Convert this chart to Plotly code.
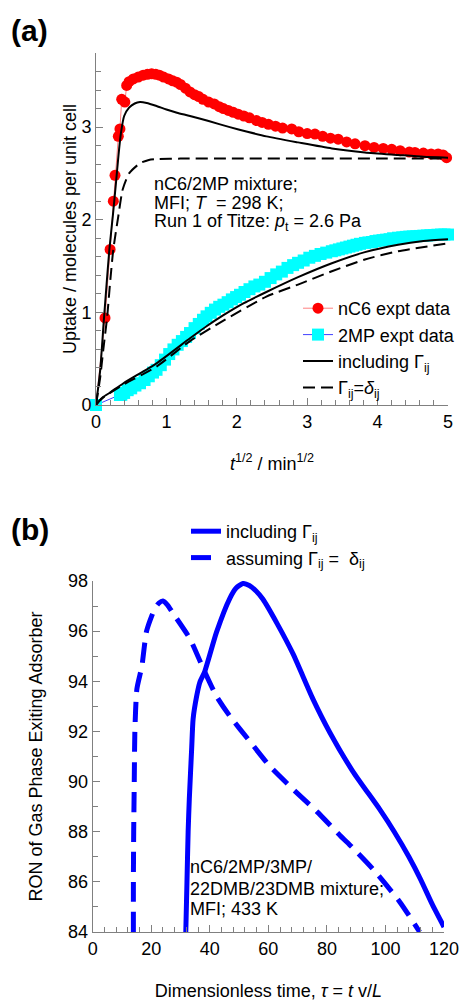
import plotly.graph_objects as go

# ---------------- Panel (a): uptake data ----------------
nc6_x = [0.00, 0.128, 0.20, 0.246, 0.27, 0.317, 0.34, 0.365, 0.41, 0.436, 0.47, 0.53, 0.60, 0.67,
         0.73, 0.79, 0.85, 0.90, 0.96, 1.03, 1.09, 1.146, 1.20, 1.27, 1.335, 1.40, 1.46, 1.52,
         1.60, 1.68, 1.75, 1.81, 1.88, 1.95, 2.02, 2.10, 2.18, 2.28, 2.36, 2.45, 2.55, 2.65,
         2.78, 2.88, 3.00, 3.11, 3.22, 3.33, 3.44, 3.56, 3.68, 3.82, 3.95, 4.08, 4.20, 4.32,
         4.45, 4.53, 4.65, 4.76, 4.86, 4.93, 4.98]
nc6_y = [0.00, 0.94, 1.68, 2.20, 2.48, 2.90, 2.98, 3.30, 3.27, 3.45, 3.49, 3.52, 3.54, 3.56,
         3.57, 3.575, 3.57, 3.56, 3.54, 3.52, 3.50, 3.485, 3.46, 3.42, 3.38, 3.35, 3.33, 3.30,
         3.27, 3.25, 3.22, 3.20, 3.18, 3.16, 3.14, 3.12, 3.10, 3.07, 3.05, 3.03, 3.01, 2.99,
         2.98, 2.95, 2.93, 2.925, 2.90, 2.88, 2.87, 2.84, 2.82, 2.80, 2.78, 2.77, 2.76, 2.745,
         2.73, 2.727, 2.72, 2.71, 2.71, 2.70, 2.67]

mp2_x = [0.00, 0.34, 0.36, 0.40, 0.45, 0.50, 0.56, 0.625, 0.69, 0.75, 0.81, 0.86, 0.92, 0.98,
         1.04, 1.10, 1.16, 1.22, 1.28, 1.335, 1.40, 1.46, 1.52, 1.57, 1.63, 1.69, 1.75, 1.81,
         1.87, 1.93, 1.99, 2.045, 2.11, 2.18, 2.25, 2.32, 2.40, 2.48, 2.56, 2.64, 2.72, 2.80,
         2.87, 2.95, 3.03, 3.11, 3.19, 3.27, 3.35, 3.40, 3.45, 3.50, 3.55, 3.60, 3.65, 3.70,
         3.75, 3.82, 3.87, 3.92, 3.97, 4.02, 4.07, 4.12, 4.17, 4.22, 4.29, 4.35, 4.40, 4.45,
         4.50, 4.55, 4.60, 4.65, 4.70, 4.75, 4.80, 4.85, 4.90, 4.95, 5.00]
mp2_y = [0.00, 0.108, 0.11, 0.13, 0.16, 0.18, 0.21, 0.235, 0.27, 0.31, 0.35, 0.38, 0.43, 0.49,
         0.55, 0.60, 0.65, 0.69, 0.735, 0.777, 0.83, 0.875, 0.92, 0.957, 0.995, 1.03, 1.06, 1.083,
         1.11, 1.14, 1.165, 1.19, 1.22, 1.25, 1.28, 1.30, 1.33, 1.37, 1.41, 1.44, 1.48, 1.51,
         1.535, 1.56, 1.59, 1.61, 1.63, 1.645, 1.66, 1.67, 1.68, 1.69, 1.70, 1.71, 1.72, 1.73,
         1.74, 1.75, 1.755, 1.76, 1.77, 1.775, 1.78, 1.785, 1.79, 1.80, 1.806, 1.81, 1.815, 1.818,
         1.82, 1.822, 1.825, 1.828, 1.83, 1.833, 1.835, 1.838, 1.84, 1.84, 1.84]

# model including Gamma_ij
inc_nc6_x = [0.00, 0.06, 0.11, 0.15, 0.19, 0.24, 0.284, 0.32, 0.355, 0.40, 0.47, 0.55, 0.625,
             0.72, 0.85, 1.00, 1.15, 1.335, 1.60, 1.90, 2.15, 2.42, 2.87, 3.35, 3.82, 4.29, 4.65, 5.00]
inc_nc6_y = [0.00, 0.38, 0.90, 1.30, 1.68, 2.05, 2.40, 2.70, 2.94, 3.12, 3.21, 3.255, 3.27,
             3.26, 3.23, 3.19, 3.155, 3.12, 3.065, 3.00, 2.95, 2.90, 2.835, 2.77, 2.727, 2.70, 2.68, 2.67]
inc_mp2_x = [0.00, 0.05, 0.10, 0.20, 0.39, 0.86, 1.335, 1.57, 1.81, 2.10, 2.42, 2.87, 3.35, 3.82,
             4.29, 4.65, 5.00]
inc_mp2_y = [0.00, 0.05, 0.085, 0.135, 0.235, 0.45, 0.72, 0.85, 0.97, 1.10, 1.22, 1.38, 1.53,
             1.65, 1.73, 1.77, 1.79]

# model assuming Gamma_ij = delta_ij
del_nc6_x = [0.00, 0.06, 0.104, 0.16, 0.20, 0.246, 0.317, 0.38, 0.47, 0.625, 0.75, 0.86, 1.20,
             2.00, 3.00, 4.00, 5.00]
del_nc6_y = [0.00, 0.30, 0.60, 0.96, 1.32, 1.68, 2.04, 2.33, 2.50, 2.61, 2.645, 2.655, 2.66,
             2.66, 2.66, 2.66, 2.66]
del_mp2_x = [0.00, 0.05, 0.10, 0.20, 0.39, 0.86, 1.335, 1.81, 2.42, 2.87, 3.35, 3.82, 4.29, 5.00]
del_mp2_y = [0.00, 0.045, 0.08, 0.13, 0.22, 0.415, 0.69, 0.91, 1.17, 1.30, 1.444, 1.571, 1.66, 1.745]

# ---------------- Panel (b): RON ----------------
ron_inc_x = [31.8, 32.2, 32.6, 33.0, 33.8, 34.3, 35.5, 36.6, 38.3, 42.3, 46.8, 49.0, 51.3,
             53.5, 55.8, 58.1, 63.0, 68.4, 75.2, 81.0, 88.9, 98.0, 103.0, 108.0, 112.0, 116.0, 120.0]
ron_inc_y = [84.0, 86.0, 88.0, 89.3, 91.3, 92.5, 93.4, 93.96, 94.4, 95.96, 97.3, 97.72, 97.9,
             97.82, 97.6, 97.28, 96.3, 95.1, 93.3, 91.96, 90.4, 88.9, 88.0, 87.0, 86.1, 85.1, 84.2]
ron_del_x = [13.9, 13.9, 14.0, 14.2, 14.4, 15.1, 16.8, 18.4, 21.2, 22.6, 24.0, 25.5, 27.5, 33.2,
             37.8, 42.3, 46.9, 53.7, 60.6, 68.4, 76.6, 84.5, 88.9, 95.8, 104.9, 111.7]
ron_del_y = [84.0, 86.0, 88.0, 90.0, 92.0, 93.7, 94.6, 96.0, 96.9, 97.12, 97.2, 97.05, 96.7, 95.7,
             94.5, 93.4, 92.6, 91.6, 90.6, 89.7, 88.8, 87.85, 87.35, 86.5, 85.2, 84.0]

FONT = "Arial, Liberation Sans, sans-serif"
AX = "#808080"

fig = go.Figure()

fig.add_trace(go.Scatter(x=nc6_x, y=nc6_y, mode="lines+markers", name="nC6 expt data",
                         line=dict(color="#ff8080", width=1),
                         marker=dict(color="#ff0000", size=11, symbol="circle"),
                         cliponaxis=False, xaxis="x", yaxis="y", legend="legend"))
fig.add_trace(go.Scatter(x=mp2_x, y=mp2_y, mode="lines+markers", name="2MP expt data",
                         line=dict(color="#4040ff", width=1),
                         marker=dict(color="#00ffff", size=12, symbol="square"),
                         cliponaxis=False, xaxis="x", yaxis="y", legend="legend"))
fig.add_trace(go.Scatter(x=inc_nc6_x, y=inc_nc6_y, mode="lines", name="including Γ<sub>ij</sub>",
                         line=dict(color="black", width=2, shape="spline", smoothing=0.6),
                         xaxis="x", yaxis="y", legend="legend", legendgroup="inc"))
fig.add_trace(go.Scatter(x=inc_mp2_x, y=inc_mp2_y, mode="lines", name="including Γ<sub>ij</sub>",
                         line=dict(color="black", width=2, shape="spline", smoothing=0.6),
                         xaxis="x", yaxis="y", showlegend=False, legendgroup="inc"))
fig.add_trace(go.Scatter(x=del_nc6_x, y=del_nc6_y, mode="lines",
                         name="Γ<sub>ij</sub>=<i>δ</i><sub>ij</sub>",
                         line=dict(color="black", width=2, dash="12px,6px", shape="spline", smoothing=0.6),
                         xaxis="x", yaxis="y", legend="legend", legendgroup="del"))
fig.add_trace(go.Scatter(x=del_mp2_x, y=del_mp2_y, mode="lines",
                         name="Γ<sub>ij</sub>=<i>δ</i><sub>ij</sub>",
                         line=dict(color="black", width=2, dash="12px,6px", shape="spline", smoothing=0.6),
                         xaxis="x", yaxis="y", showlegend=False, legendgroup="del"))

fig.add_trace(go.Scatter(x=ron_inc_x, y=ron_inc_y, mode="lines", name="including Γ<sub>ij</sub>",
                         line=dict(color="#0000ff", width=5, shape="spline", smoothing=0.6),
                         cliponaxis=False, xaxis="x2", yaxis="y2", legend="legend2"))
fig.add_trace(go.Scatter(x=ron_del_x, y=ron_del_y, mode="lines",
                         name="assuming Γ<sub>ij</sub> =  δ<sub>ij</sub>",
                         line=dict(color="#0000ff", width=5, dash="20px,10px", shape="spline", smoothing=0.6),
                         cliponaxis=False, xaxis="x2", yaxis="y2", legend="legend2"))

W, H = 461, 1001

def axis_common():
    return dict(showline=True, linecolor=AX, linewidth=1, ticks="inside", ticklen=7,
                tickcolor=AX, tickwidth=1, showgrid=False, zeroline=False, mirror=False,
                tickfont=dict(size=18, color="black", family=FONT))

fig.update_layout(
    width=W, height=H, margin=dict(l=0, r=0, t=0, b=0),
    template="none", paper_bgcolor="white", plot_bgcolor="white",
    font=dict(family=FONT, size=18, color="black"),
    xaxis=dict(domain=[96 / W, 448 / W], range=[0, 5], anchor="y", dtick=1, tick0=0,
               minor=dict(dtick=0.2, ticks="inside", ticklen=5, tickcolor=AX),
               title=dict(text="<i>t</i><sup>1/2</sup> / min<sup>1/2</sup>", standoff=26,
                          font=dict(size=18)),
               **axis_common()),
    yaxis=dict(domain=[1 - 405 / H, 1 - 53 / H], range=[0, 3.8], anchor="x", dtick=1, tick0=0,
               minor=dict(dtick=0.2, ticks="inside", ticklen=5, tickcolor=AX),
               title=dict(text="Uptake / molecules per unit cell", standoff=0, font=dict(size=18)),
               **axis_common()),
    xaxis2=dict(domain=[92.7 / W, 444 / W], range=[0, 120], anchor="y2", dtick=20, tick0=0,
                minor=dict(dtick=4, ticks="inside", ticklen=5, tickcolor=AX),
                title=dict(text="Dimensionless time, <i>τ</i> = <i>t</i> v/<i>L</i>", standoff=30,
                           font=dict(size=18)),
                **axis_common()),
    yaxis2=dict(domain=[1 - 932 / H, 1 - 581 / H], range=[84, 98], anchor="x2", dtick=2, tick0=84,
                minor=dict(dtick=1, ticks="inside", ticklen=5, tickcolor=AX),
                title=dict(text="RON of Gas Phase Exiting Adsorber", standoff=20, font=dict(size=18)),
                **axis_common()),
    legend=dict(x=298 / W, y=1 - 290 / H, xanchor="left", yanchor="top", bgcolor="rgba(0,0,0,0)",
                font=dict(size=18), traceorder="normal"),
    legend2=dict(x=186 / W, y=1 - 513 / H, xanchor="left", yanchor="top", bgcolor="rgba(0,0,0,0)",
                 font=dict(size=18), traceorder="normal"),
    showlegend=True,
)

note_a = ["nC6/2MP mixture;", "MFI; <i>T</i>  = 298 K;", "Run 1 of Titze: <i>p</i><sub>t</sub> = 2.6 Pa"]
note_a_y = [2.383, 2.178, 1.969]
for txt, yy in zip(note_a, note_a_y):
    fig.add_annotation(text=txt, x=0.795, y=yy, xref="x", yref="y", xanchor="left", yanchor="middle",
                       showarrow=False, align="left", font=dict(size=18))

note_b = ["nC6/2MP/3MP/", "22DMB/23DMB mixture;", "MFI; 433 K"]
note_b_y = [86.61, 85.71, 84.92]
for txt, yy in zip(note_b, note_b_y):
    fig.add_annotation(text=txt, x=32.6, y=yy, xref="x2", yref="y2", xanchor="left", yanchor="middle",
                       showarrow=False, align="left", font=dict(size=18))

fig.add_annotation(text="<b>(a)</b>", x=30 / W, y=1 - 31 / H, xref="paper", yref="paper",
                   xanchor="center", yanchor="middle", showarrow=False, font=dict(size=30))
fig.add_annotation(text="<b>(b)</b>", x=30 / W, y=1 - 529 / H, xref="paper", yref="paper",
                   xanchor="center", yanchor="middle", showarrow=False, font=dict(size=30))

fig.write_html("out.html")
